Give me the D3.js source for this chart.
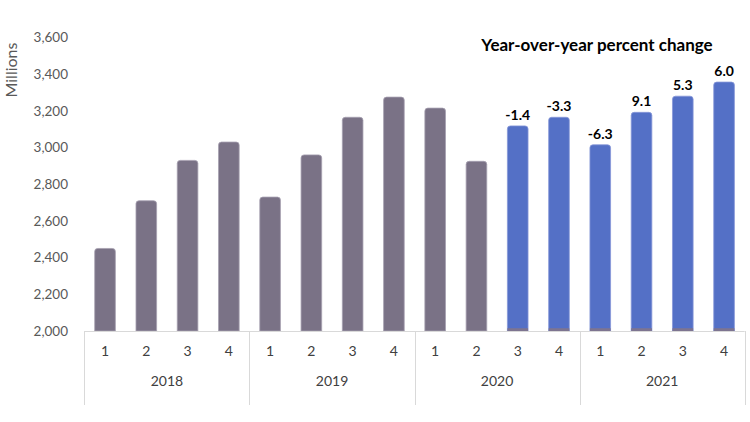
<!DOCTYPE html>
<html><head><meta charset="utf-8">
<script src="https://cdn.jsdelivr.net/npm/d3@7"></script>
<style>body{margin:0;background:#fff}svg{display:block}text{font-family:Lato,"Open Sans",sans-serif}</style>
</head><body><svg id="c" width="750" height="422"></svg>
<script>
const years = ["2018","2019","2020","2021"];
const quarters = ["1","2","3","4"];
const values = [2450,2710,2930,3030, 2730,2960,3165,3275, 3215,2925,3118,3165, 3015,3192,3280,3357];
const highlighted = [false,false,false,false, false,false,false,false, false,false,true,true, true,true,true,true];
const pctLabels = [null,null,null,null, null,null,null,null, null,null,"-1.4","-3.3", "-6.3","9.1","5.3","6.0"];
const baseStrip = [0,0,0,0, 0,0,0,0, 0,0,15,15, 15,15,15,15];
const yTicks = [2000,2200,2400,2600,2800,3000,3200,3400,3600];
const title = "Year-over-year percent change";
const yLabel = "Millions";

const svg = d3.select("#c");
const idx = d3.range(values.length);
const x = d3.scaleBand().domain(idx).range([84.4,744.7]).paddingInner(0.5).paddingOuter(0.25);
const y = d3.scaleLinear().domain([2000,3600]).range([331,37.5]);

// y tick labels
const yAxis = d3.axisLeft(y).tickValues(yTicks).tickFormat(d3.format(",")).tickSize(0).tickPadding(0);
const ga = svg.append("g").attr("transform","translate(68,0)").call(yAxis);
ga.select(".domain").remove();
ga.selectAll("text").attr("font-size",13.5).attr("fill","#595959").attr("font-family","Lato, sans-serif");

svg.append("text").text(yLabel).attr("transform","translate(13,70) rotate(-90)")
  .attr("text-anchor","middle").attr("dominant-baseline","middle").attr("font-size",16).attr("fill","#595959");

// bars
const grey = "#7a7286", blue = "#5470c6";
svg.append("g").selectAll("path").data(idx).join("path")
  .attr("d", i => {
    const x0 = x(i), w = x.bandwidth(), y0 = y(values[i]), y1 = y(2000), r = 3;
    return `M${x0},${y1}V${y0+r}Q${x0},${y0} ${x0+r},${y0}H${x0+w-r}Q${x0+w},${y0} ${x0+w},${y0+r}V${y1}Z`;
  })
  .attr("fill", i => highlighted[i] ? blue : grey)
  .attr("stroke", i => highlighted[i] ? "#8797d8" : "#a69fb0").attr("stroke-width",0.8);
svg.append("g").selectAll("rect").data(idx.filter(i=>baseStrip[i]>0)).join("rect")
  .attr("x", i=>x(i)).attr("width", x.bandwidth())
  .attr("y", i=>y(2000+baseStrip[i])).attr("height", i=>y(2000)-y(2000+baseStrip[i]))
  .attr("fill","#7d7490");

// value labels
svg.append("g").selectAll("text").data(idx.filter(i=>pctLabels[i])).join("text")
  .attr("x", i=>x(i)+x.bandwidth()/2).attr("y", i=>y(values[i])-6)
  .attr("text-anchor","middle").attr("font-size",14).attr("font-weight","bold").attr("fill","#000")
  .text(i=>pctLabels[i]);

// title
svg.append("text").text(title).attr("x",597).attr("y",51).attr("text-anchor","middle")
  .attr("font-size",17).attr("font-weight","bold").attr("fill","#000");

// x axis
const axisCol = "#d9d9d9";
svg.append("line").attr("x1",84.4).attr("x2",744.7).attr("y1",331.5).attr("y2",331.5).attr("stroke",axisCol);
const step = x.step();
const seps = d3.range(years.length+1).map(k => 84.4 + k*4*step);
svg.append("g").selectAll("line").data(seps).join("line")
  .attr("x1",d=>Math.round(d)+0.5).attr("x2",d=>Math.round(d)+0.5).attr("y1",331).attr("y2",405).attr("stroke",axisCol);
svg.append("g").selectAll("text").data(idx).join("text")
  .attr("x", i=>x(i)+x.bandwidth()/2).attr("y",356).attr("text-anchor","middle")
  .attr("font-size",14).attr("fill","#404040").text(i=>quarters[i%4]);
svg.append("g").selectAll("text").data(years).join("text")
  .attr("x",(d,k)=>(seps[k]+seps[k+1])/2).attr("y",386).attr("text-anchor","middle")
  .attr("font-size",14).attr("fill","#404040").text(d=>d);
</script></body></html>
